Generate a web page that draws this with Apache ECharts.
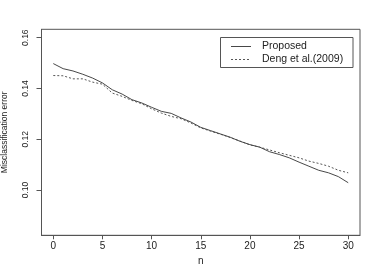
<!DOCTYPE html>
<html><head><meta charset="utf-8">
<script src="https://cdn.jsdelivr.net/npm/echarts@6/dist/echarts.min.js"></script>
<style>html,body{margin:0;padding:0;background:#fff}#c{width:382px;height:273px}</style>
</head><body><div id="c"></div>
<script>
var nValues = [0,1,2,3,4,5,6,7,8,9,10,11,12,13,14,15,16,17,18,19,20,21,22,23,24,25,26,27,28,29,30];
var proposed = [0.1498,0.1478,0.1469,0.1456,0.1441,0.1422,0.1395,0.1378,0.1356,0.1343,0.1326,0.1310,0.1302,0.1284,0.1268,0.1247,0.1234,0.1221,0.1208,0.1192,0.1179,0.1169,0.1151,0.1140,0.1127,0.1110,0.1094,0.1078,0.1068,0.1053,0.1029];
var deng = [0.1451,0.1450,0.1438,0.1438,0.1425,0.1417,0.1382,0.1369,0.1353,0.1340,0.1320,0.1303,0.1290,0.1281,0.1264,0.1245,0.1232,0.1220,0.1207,0.1193,0.1178,0.1169,0.1158,0.1147,0.1137,0.1127,0.1114,0.1105,0.1094,0.1078,0.1068];
var xTicks = [0,5,10,15,20,25,30];
var yTicks = [0.10,0.12,0.14,0.16];
var seriesNames = ['Proposed','Deng et al.(2009)'];

var FONT = 'Liberation Sans';
var AX = '#555';
var chart = echarts.init(document.getElementById('c'), null, {renderer:'canvas'});
function pairs(vals){ return nValues.map(function(n,i){return [n, vals[i]];}); }
chart.setOption({
  animation:false,
  grid:{left:41.5, top:29.3, width:318.5, height:206, show:true, borderColor:AX, borderWidth:1, backgroundColor:'transparent', containLabel:false, outerBoundsMode:'none'},
  xAxis:{type:'value', min:-1.2, max:31.2, name:'n', nameLocation:'middle', nameGap:21,
    nameTextStyle:{fontFamily:FONT, fontSize:10, color:'#222'},
    axisLine:{show:true, onZero:false, lineStyle:{color:AX}},
    axisTick:{show:true, length:4, lineStyle:{color:AX}, customValues:xTicks},
    axisLabel:{fontFamily:FONT, fontSize:10, color:'#222', margin:6, customValues:xTicks},
    splitLine:{show:false}},
  yAxis:{type:'value', min:0.0822, max:0.1633, name:'Misclassification error', nameLocation:'middle', nameGap:32,
    nameTextStyle:{fontFamily:FONT, fontSize:8.5, color:'#222'},
    axisLine:{show:true, onZero:false, lineStyle:{color:AX}},
    axisTick:{show:true, length:5, lineStyle:{color:AX}, customValues:yTicks},
    axisLabel:{fontFamily:FONT, fontSize:8.5, color:'#222', rotate:90, margin:11, customValues:yTicks,
      formatter:function(v){return v.toFixed(2);}},
    splitLine:{show:false}},
  series:[
    {name:seriesNames[0], type:'line', data:pairs(proposed), symbol:'none', lineStyle:{color:'#333', width:0.9}},
    {name:seriesNames[1], type:'line', data:pairs(deng), symbol:'none', lineStyle:{color:'#444', width:0.9, type:[2,2]}}
  ],
  graphic:[
    {type:'rect', shape:{x:220.5, y:37.5, width:132.5, height:30}, style:{fill:'#fff', stroke:AX, lineWidth:1}},
    {type:'line', shape:{x1:231, y1:46.5, x2:251, y2:46.5}, style:{stroke:'#333', lineWidth:0.9}},
    {type:'line', shape:{x1:231, y1:59.5, x2:251, y2:59.5}, style:{stroke:'#444', lineWidth:0.9, lineDash:[2,2]}},
    {type:'text', x:262, y:46.5, style:{text:seriesNames[0], font:'10.5px '+FONT, fill:'#222', verticalAlign:'middle'}},
    {type:'text', x:262, y:59.5, style:{text:seriesNames[1], font:'10.5px '+FONT, fill:'#222', verticalAlign:'middle'}}
  ]
});
</script></body></html>
